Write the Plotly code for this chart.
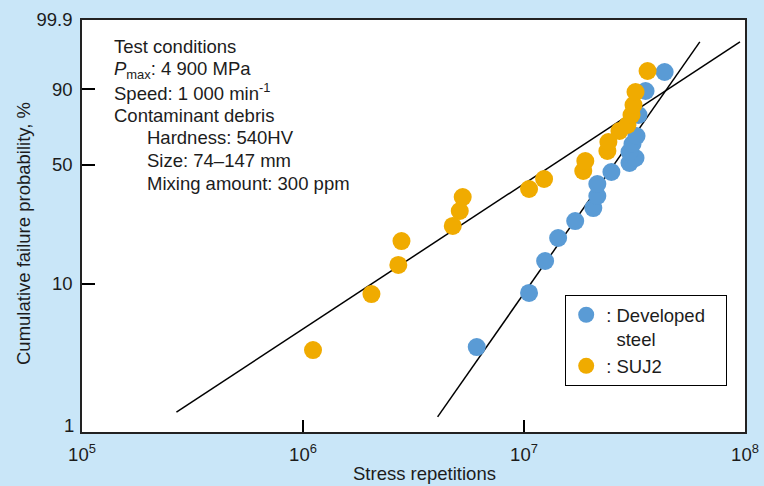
import numpy as np
import plotly.graph_objects as go

# Stress repetitions to flaking and cumulative failure probability (%)
dev_cycles = [6.11e6, 1.054e7, 1.246e7, 1.427e7, 1.705e7, 2.059e7, 2.147e7, 2.147e7,
              2.486e7, 3.001e7, 3.196e7, 3.001e7, 3.097e7, 3.229e7, 3.298e7, 3.548e7, 4.328e7]
dev_prob = [3.79, 8.71, 14.04, 19.57, 24.81, 29.56, 34.56, 40.12,
            46.22, 51.11, 53.91, 57.33, 61.98, 66.64, 78.38, 89.36, 95.16]

suj_cycles = [1.11e6, 2.04e6, 2.70e6, 2.79e6, 4.76e6, 5.12e6, 5.28e6, 1.054e7, 1.233e7,
              1.854e7, 1.894e7, 2.384e7, 2.409e7, 2.703e7, 2.939e7, 3.065e7, 3.130e7,
              3.196e7, 3.624e7]
suj_prob = [3.62, 8.57, 13.24, 18.75, 23.17, 28.41, 34.11, 37.73, 42.60,
            46.75, 52.22, 57.91, 63.14, 69.53, 72.93, 78.38, 83.39,
            88.98, 95.39]

# Weibull fit lines (end points)
dev_fit_cycles = [4.065e6, 6.245e7]
dev_fit_prob = [1.27, 99.24]
suj_fit_cycles = [2.675e5, 9.49e7]
suj_fit_prob = [1.37, 99.24]

prob_ticks = [1, 10, 50, 90, 99.9]
prob_labels = ["", "10", "50", "90", "99.9"]
cycle_ticks = [1e5, 1e6, 1e7, 1e8]
cycle_labels = ["10<sup>5</sup>", "10<sup>6</sup>", "10<sup>7</sup>", "10<sup>8</sup>"]

condition_lines = [
    "Test conditions",
    "<i>P</i><sub>max</sub>: 4 900 MPa",
    "Speed: 1 000 min<sup>-1</sup>",
    "Contaminant debris",
    "Hardness: 540HV",
    "Size: 74\u2013147 mm",
    "Mixing amount: 300 ppm",
]
condition_indent = [0, 0, 0, 0, 1, 1, 1]

BLUE = "#5A9BD5"
ORANGE = "#F0AB00"
BG = "#C9E6F8"
INK = "#1c1c1c"
FONT = "Liberation Sans, Arial, Helvetica, sans-serif"
FS = 18.5


def weibull(p):
    p = np.asarray(p, dtype=float) / 100.0
    return np.log(-np.log(1.0 - p))


fig = go.Figure()

fig.add_trace(go.Scatter(x=suj_fit_cycles, y=weibull(suj_fit_prob), mode="lines",
                         line=dict(color="black", width=1.5), showlegend=False,
                         hoverinfo="skip"))
fig.add_trace(go.Scatter(x=dev_fit_cycles, y=weibull(dev_fit_prob), mode="lines",
                         line=dict(color="black", width=1.5), showlegend=False,
                         hoverinfo="skip"))

fig.add_trace(go.Scatter(x=dev_cycles, y=weibull(dev_prob), mode="markers",
                         name=":\u00a0Developed\u00a0\u00a0\u00a0<br>\u00a0\u00a0steel",
                         marker=dict(color=BLUE, size=18, line=dict(width=0))))
fig.add_trace(go.Scatter(x=suj_cycles, y=weibull(suj_prob), mode="markers",
                         name=":\u00a0SUJ2",
                         marker=dict(color=ORANGE, size=18, line=dict(width=0))))

W, H = 764, 486
L, R, T, B = 82, 19, 20, 54
pw, ph = W - L - R, H - T - B


def px_x(x):
    return (x - L) / pw


def px_y(y):
    return (H - B - y) / ph


annotations = []
for i, (txt, ind) in enumerate(zip(condition_lines, condition_indent)):
    annotations.append(dict(
        text=txt, xref="paper", yref="paper",
        x=px_x(145 if ind else 112), y=px_y(47 + i * 22.7),
        xanchor="left", yanchor="middle", showarrow=False,
        font=dict(family=FONT, size=FS, color=INK)))

# label for the 1 % line, lifted off the bottom frame
annotations.append(dict(text="1", xref="paper", yref="y", x=px_x(76), y=float(weibull(1)),
                        xanchor="right", yanchor="middle", yshift=7, showarrow=False,
                        font=dict(family=FONT, size=FS, color=INK)))
annotations.append(dict(text="Stress repetitions", xref="paper", yref="paper",
                        x=px_x(424), y=px_y(473), xanchor="center", yanchor="middle",
                        showarrow=False, font=dict(family=FONT, size=FS, color=INK)))
annotations.append(dict(text="Cumulative failure probability, %", xref="paper", yref="paper",
                        x=px_x(23), y=px_y(234), xanchor="center", yanchor="middle",
                        textangle=-90, showarrow=False,
                        font=dict(family=FONT, size=FS, color=INK)))

fig.update_layout(
    width=W, height=H,
    autosize=False,
    margin=dict(l=L, r=R, t=T, b=B, pad=0, autoexpand=False),
    paper_bgcolor=BG, plot_bgcolor="white",
    font=dict(family=FONT, size=FS, color=INK),
    annotations=annotations,
    showlegend=True,
    legend=dict(x=px_x(565), y=px_y(295), xanchor="left", yanchor="top",
                bgcolor="white", bordercolor="black", borderwidth=1.2,
                font=dict(family=FONT, size=FS, color=INK), valign="top",
                tracegroupgap=0),
)

fig.update_xaxes(type="log", range=[5, 8], tickvals=cycle_ticks, ticktext=cycle_labels,
                 ticks="inside", ticklen=12, tickwidth=1.5, tickcolor="black",
                 showgrid=False, zeroline=False, showline=True, mirror=True,
                 linecolor="#222", linewidth=1.5, ticklabelstandoff=5, automargin=False,
                 tickfont=dict(family=FONT, size=FS, color=INK))
fig.update_yaxes(range=[float(weibull(1)), float(weibull(99.9))],
                 tickvals=[float(v) for v in weibull(prob_ticks)], ticktext=prob_labels,
                 ticks="inside", ticklen=13, tickwidth=1.5, tickcolor="black",
                 showgrid=False, zeroline=False, showline=True, mirror=True,
                 linecolor="#222", linewidth=1.5, ticklabelstandoff=4, automargin=False,
                 tickfont=dict(family=FONT, size=FS, color=INK))

fig.write_html("out.html")
